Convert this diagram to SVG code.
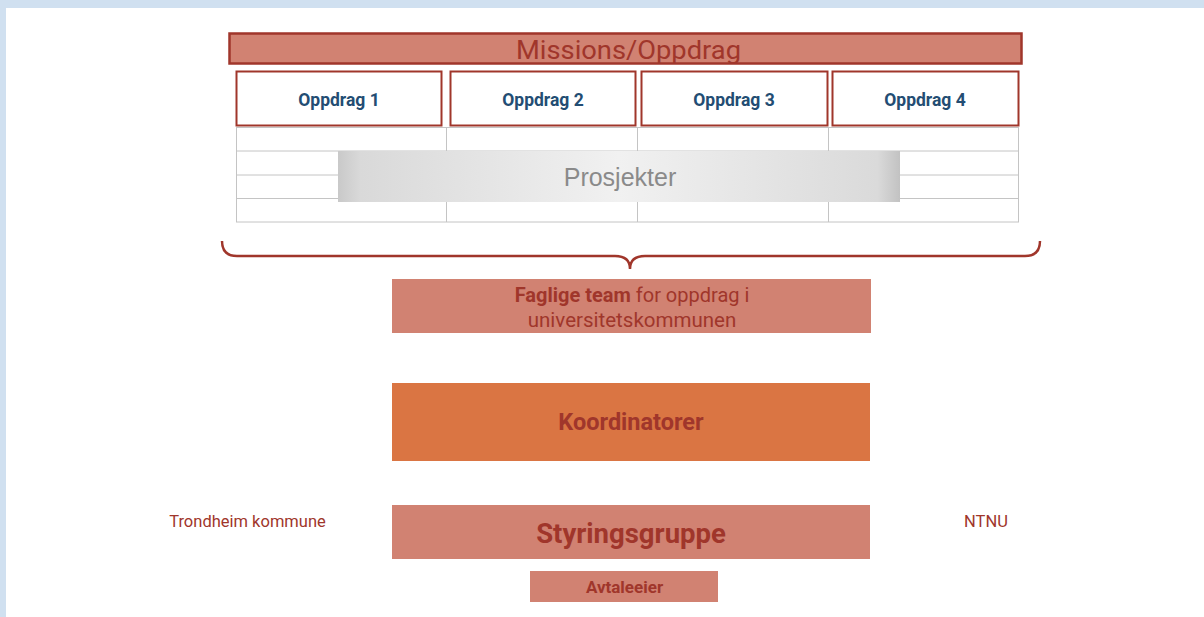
<svg xmlns="http://www.w3.org/2000/svg" width="1204" height="617" viewBox="0 0 1204 617">
<defs>
<linearGradient id="gProj" x1="0" y1="0" x2="1" y2="0">
<stop offset="0" stop-color="#c9c9c9"/>
<stop offset="0.04" stop-color="#d9d9d9"/>
<stop offset="0.5" stop-color="#f1f1f1"/>
<stop offset="0.96" stop-color="#dadada"/>
<stop offset="1" stop-color="#c2c2c2"/>
</linearGradient>
</defs>
<style>
.dark{fill:#a0362b;font-family:Roboto,"Liberation Sans",sans-serif}
.salmon{fill:#d18272}
.opp{fill:#ffffff;stroke:#a0362b;stroke-width:2}
.opptx{fill:#234d73;font-family:Roboto,"Liberation Sans",sans-serif;font-weight:bold;font-size:17.5px;text-anchor:middle}
.grid{fill:none;stroke:#c4c4c4;stroke-width:1}
</style>
<rect x="0" y="0" width="1204" height="617" fill="#ffffff"/>
<rect x="0" y="0" width="1204" height="8" fill="#d0e0f0"/>
<rect x="0" y="0" width="6" height="617" fill="#d0e0f0"/>

<g id="missions">
<rect x="229.5" y="33.5" width="792" height="30" fill="#d18272" stroke="#a0362b" stroke-width="2.5"/>
<text x="628.5" y="58.5" class="dark" font-size="25.5" text-anchor="middle" textLength="225" lengthAdjust="spacingAndGlyphs">Missions/Oppdrag</text>
</g>

<g id="grid">
<rect x="236.5" y="127.5" width="782" height="94.5" class="grid"/>
<line x1="236" y1="151" x2="1019" y2="151" class="grid"/>
<line x1="236" y1="175" x2="1019" y2="175" class="grid"/>
<line x1="236" y1="198.5" x2="1019" y2="198.5" class="grid"/>
<line x1="446.5" y1="127" x2="446.5" y2="222" class="grid"/>
<line x1="637.5" y1="127" x2="637.5" y2="222" class="grid"/>
<line x1="828.5" y1="127" x2="828.5" y2="222" class="grid"/>
</g>

<g id="oppdrag1">
<rect x="236.5" y="71.5" width="205" height="54" class="opp"/>
<text x="339" y="105.5" class="opptx">Oppdrag 1</text>
</g>
<g id="oppdrag2">
<rect x="450.5" y="71.5" width="185" height="54" class="opp"/>
<text x="543" y="105.5" class="opptx">Oppdrag 2</text>
</g>
<g id="oppdrag3">
<rect x="641.5" y="71.5" width="186" height="54" class="opp"/>
<text x="734" y="105.5" class="opptx">Oppdrag 3</text>
</g>
<g id="oppdrag4">
<rect x="832.5" y="71.5" width="186" height="54" class="opp"/>
<text x="925" y="105.5" class="opptx">Oppdrag 4</text>
</g>

<g id="prosjekter">
<rect x="338" y="151" width="562" height="51" fill="url(#gProj)"/>
<text x="620" y="186" font-family="'Liberation Sans',Arial,sans-serif" font-size="25" fill="#8a8a8a" text-anchor="middle">Prosjekter</text>
</g>

<g id="connectors">
<path d="M222,241 Q222,256 237,256 L615,256 Q630,256 630,269 Q630,256 645,256 L1025,256 Q1040,256 1040,241" fill="none" stroke="#a0362b" stroke-width="2.5"/>
</g>

<g id="faglige">
<rect x="392" y="279" width="479" height="54" class="salmon"/>
<text x="632" y="302" class="dark" font-size="20" text-anchor="middle"><tspan font-weight="bold">Faglige team</tspan> for oppdrag i</text>
<text x="632" y="327" class="dark" font-size="20.5" text-anchor="middle">universitetskommunen</text>
</g>

<g id="koordinatorer">
<rect x="392" y="383" width="478" height="78" fill="#da7543"/>
<text x="631" y="430" class="dark" font-size="23.5" font-weight="bold" text-anchor="middle">Koordinatorer</text>
</g>

<g id="styringsgruppe">
<rect x="392" y="505" width="478" height="54" class="salmon"/>
<text x="631" y="543" class="dark" font-size="27.5" font-weight="bold" text-anchor="middle">Styringsgruppe</text>
</g>

<g id="avtaleeier">
<rect x="530" y="571" width="188" height="31" class="salmon"/>
<text x="624.5" y="592.5" class="dark" font-size="17" font-weight="bold" text-anchor="middle">Avtaleeier</text>
</g>

<g id="trondheim">
<text x="247.5" y="527" class="dark" font-size="16.5" text-anchor="middle">Trondheim kommune</text>
</g>
<g id="ntnu">
<text x="986" y="527" class="dark" font-size="16.5" text-anchor="middle">NTNU</text>
</g>
</svg>
